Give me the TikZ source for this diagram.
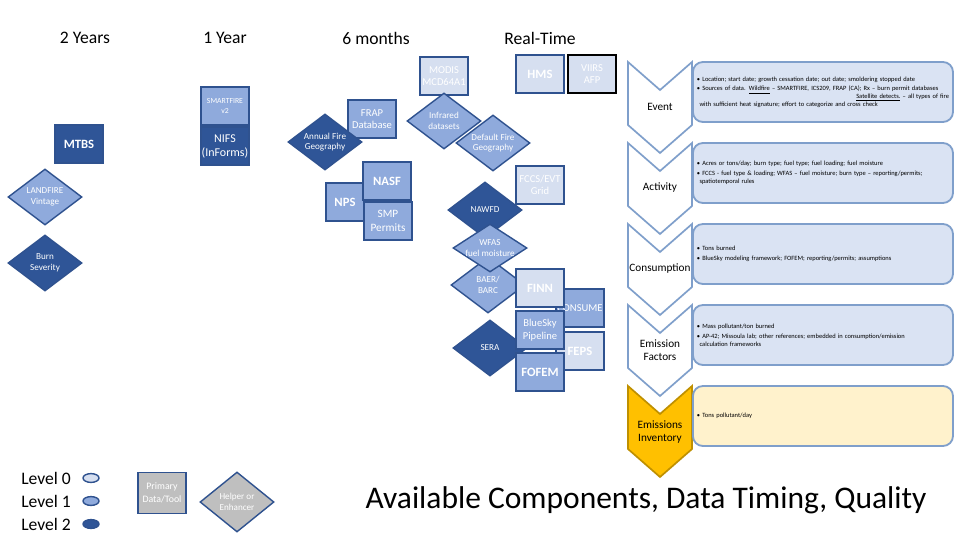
\documentclass[tikz,border=0pt]{standalone}
\usepackage{fontspec}
\setmainfont{Carlito}
\usetikzlibrary{shapes.geometric}
\definecolor{lvla}{HTML}{D6DFF0}
\definecolor{lvlb}{HTML}{8FAADC}
\definecolor{lvlc}{HTML}{2F5597}
\definecolor{edgeblue}{HTML}{2F528F}
\definecolor{chevline}{HTML}{7F9FCB}
\definecolor{notefill}{HTML}{DAE3F3}
\definecolor{invfill}{HTML}{FFC000}
\definecolor{invline}{HTML}{BF9000}
\definecolor{invnote}{HTML}{FFF2CC}
\definecolor{legendgray}{HTML}{BFBFBF}
\tikzset{
  tool/.style={rectangle,draw=edgeblue,line width=1pt,minimum width=1.2cm,minimum height=0.95cm,
    inner sep=0pt,text=white,align=center,font=\fontsize{7.5}{9}\selectfont},
  helper/.style={diamond,aspect=1.35,draw=edgeblue,line width=1pt,minimum width=1.85cm,
    minimum height=1.4cm,inner sep=-3pt,text=white,align=center,font=\fontsize{6.5}{7.5}\selectfont},
  lvlzero/.style={fill=lvla},
  lvlone/.style={fill=lvlb},
  lvltwo/.style={fill=lvlc},
  boldlabel/.style={font=\fontsize{9}{10}\selectfont\bfseries},
  hdr/.style={font=\fontsize{12.5}{14}\selectfont},
  chevron/.style={draw=chevline,line width=1.2pt,fill=white},
  chevtext/.style={font=\fontsize{8}{9.5}\selectfont,align=center},
  note/.style={draw=chevline,line width=1.3pt,fill=notefill,rounded corners=0.25cm,anchor=west,
    minimum height=1.5cm,text width=6.3cm,inner xsep=0.1cm,align=left,font=\fontsize{4.6}{5.5}\selectfont},
  lvldot/.style={ellipse,draw=edgeblue,line width=1pt,minimum width=0.4cm,minimum height=0.22cm,inner sep=0pt}
}
\begin{document}
\begin{tikzpicture}[x=0.025cm,y=-0.025cm]
\path[use as bounding box,fill=white] (0,0) rectangle (960,540);

\node[hdr] (twoyears) at (85,38) {2 Years};
\node[hdr] (oneyear) at (225,38) {1 Year};
\node[hdr] (sixmonths) at (376,38) {6 months};
\node[hdr] (realtime) at (540,38) {Real-Time};

\node[tool,lvlzero] (modis) at (444,76) {MODIS\\MCD64A1};
\node[tool,lvlzero,boldlabel] (hms) at (540,74) {HMS};
\node[tool,lvlzero,draw=black,line width=1.6pt] (viirs) at (592,74) {VIIRS\\AFP};
\node[tool,lvlone,font=\fontsize{5.5}{7.5}\selectfont] (smartfire) at (225,106) {SMARTFIRE\\v2};
\node[tool,lvltwo,font=\fontsize{8.5}{10}\selectfont] (nifs) at (225,146) {NIFS\\(InForms)};
\node[tool,lvltwo,boldlabel] (mtbs) at (79,144) {MTBS};
\node[helper,lvlone] (landfire) at (45,197) {LANDFIRE\\Vintage};
\node[helper,lvltwo] (burnsev) at (45,263) {Burn\\Severity};
\node[tool,lvlone] (frap) at (372,119) {FRAP\\Database};
\node[helper,lvltwo] (annual) at (325,142) {Annual Fire\\Geography};
\node[helper,lvlone] (infrared) at (444,121) {Infrared\\datasets};
\node[helper,lvlone] (deffire) at (493,143) {Default Fire\\Geography};
\node[tool,lvlone,boldlabel,minimum width=0.95cm] (nps) at (345,202) {NPS};
\node[tool,lvlone,boldlabel] (nasf) at (387,181) {NASF};
\node[tool,lvlone,font=\fontsize{8}{9.5}\selectfont] (smp) at (388,221) {SMP\\Permits};
\node[tool,lvlzero] (fccs) at (540,185) {FCCS/EVT\\Grid};
\node[helper,lvltwo] (nawfd) at (485,210) {NAWFD};
\node[helper,lvlone] (baer) at (488,285) {BAER/\\BARC};
\node[helper,lvlone,minimum height=1.2cm] (wfas) at (490,248) {WFAS\\fuel moisture};
\node[helper,lvltwo] (sera) at (490,348) {SERA};
\node[tool,lvlone] (consume) at (580,308) {CONSUME};
\node[tool,lvlzero,boldlabel] (feps) at (580,351) {FEPS};
\node[tool,lvlzero,boldlabel] (finn) at (540,288) {FINN};
\node[tool,lvlone] (bluesky) at (540,330) {BlueSky\\Pipeline};
\node[tool,lvlone,boldlabel] (fofem) at (540,372) {FOFEM};

\foreach \y/\lbl/\nm in {62/Event/event,143/Activity/activity,224/Consumption/consumption,305/{Emission\\Factors}/emfactors}{
  \draw[chevron] (628,\y) -- (660,\y+28) -- (692,\y) -- (692,\y+63) -- (660,\y+91) -- (628,\y+63) -- cycle;
  \node[chevtext] (\nm) at (660,\y+45) {\lbl};
}
\draw[chevron,fill=invfill,draw=invline] (628,386) -- (660,414) -- (692,386) -- (692,449) -- (660,477) -- (628,449) -- cycle;
\node[chevtext] (inventory) at (660,432) {Emissions\\Inventory};

\node[note] (eventnote) at (692,92) {\textbullet\ Location; start date; growth cessation date; out date; smoldering stopped date\\[1.5pt]
  \textbullet\ Sources of data. \underline{Wildfire} -- SMARTFIRE, ICS209, FRAP (CA); Rx -- burn permit databases\\
  \hfill\underline{Satellite detects.} -- all types of fire\hspace*{1.2em}\\
  \hspace*{0.4em}with sufficient heat signature; effort to categorize and cross check};
\node[note] (activitynote) at (692,173) {\textbullet\ Acres or tons/day; burn type; fuel type; fuel loading; fuel moisture\\[1.5pt]
  \textbullet\ FCCS - fuel type \& loading; WFAS -- fuel moisture; burn type -- reporting/permits;\\
  \hspace*{0.4em}spatiotemporal rules};
\node[note] (consumptionnote) at (692,254) {\textbullet\ Tons burned\\[1.5pt]
  \textbullet\ BlueSky modeling framework; FOFEM; reporting/permits; assumptions};
\node[note] (emfactorsnote) at (692,335) {\textbullet\ Mass pollutant/ton burned\\[1.5pt]
  \textbullet\ AP-42; Missoula lab; other references; embedded in consumption/emission\\
  \hspace*{0.4em}calculation frameworks};
\node[note,fill=invnote] (inventorynote) at (692,416) {\textbullet\ Tons pollutant/day};

\node[font=\fontsize{12.5}{14}\selectfont] (levelzero) at (46,478) {Level 0};
\node[font=\fontsize{12.5}{14}\selectfont] (levelone) at (46,501) {Level 1};
\node[font=\fontsize{12.5}{14}\selectfont] (leveltwo) at (46,524) {Level 2};
\node[lvldot,fill=lvla] (dotzero) at (91,478) {};
\node[lvldot,fill=lvlb] (dotone) at (91,501) {};
\node[lvldot,fill=lvlc] (dottwo) at (91,524) {};
\node[tool,fill=legendgray,minimum height=1.02cm,font=\fontsize{7}{9}\selectfont] (primary) at (162,493) {Primary\\Data/Tool};
\node[helper,fill=legendgray,minimum height=1.5cm] (enhancer) at (237,502) {Helper or\\Enhancer};

\node[font=\fontsize{22.4}{26}\selectfont] (title) at (646,500) {Available Components, Data Timing, Quality};
\end{tikzpicture}
\end{document}
